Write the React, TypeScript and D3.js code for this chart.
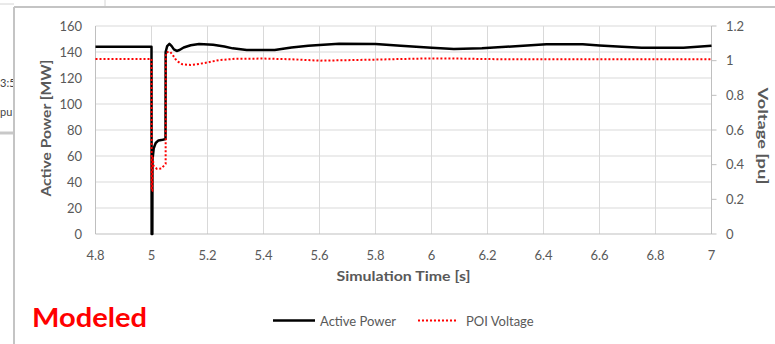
import React from "react";
import * as d3 from "d3";

const timeP = [4.8, 5.0, 5.0005, 5.003, 5.0035, 5.008, 5.015, 5.025, 5.04, 5.05, 5.0505, 5.056, 5.064, 5.072, 5.08, 5.09, 5.1, 5.115, 5.14, 5.17, 5.22, 5.26, 5.29, 5.34, 5.44, 5.5, 5.56, 5.6, 5.67, 5.8, 5.89, 6.0, 6.08, 6.18, 6.3, 6.41, 6.54, 6.6, 6.68, 6.75, 6.9, 7.0];
const powerMW = [144, 144, 0, 0, 57, 66, 70, 72, 72.5, 73, 140, 144.5, 146.2, 144.5, 142, 140.8, 141.5, 143.5, 145.2, 146.2, 145.5, 144.2, 142.8, 141.5, 141.5, 143.5, 144.8, 145.4, 146.3, 146.2, 144.8, 143.3, 142.4, 142.8, 144.5, 145.9, 145.9, 145, 144.1, 143.3, 143.3, 144.8];

const timeV = [4.8, 5.0, 5.0005, 5.003, 5.0035, 5.008, 5.02, 5.035, 5.045, 5.0505, 5.051, 5.058, 5.066, 5.075, 5.085, 5.095, 5.11, 5.14, 5.17, 5.2, 5.24, 5.3, 5.4, 5.5, 5.6, 5.7, 5.8, 5.9, 6.0, 6.1, 6.2, 6.4, 6.6, 6.8, 7.0];
const voltagePU = [1.01, 1.01, 0.25, 0.25, 0.45, 0.39, 0.375, 0.378, 0.395, 0.405, 1.04, 1.05, 1.052, 1.035, 1.01, 0.994, 0.979, 0.975, 0.981, 0.99, 1.003, 1.011, 1.012, 1.008, 1.0, 1.003, 1.006, 1.01, 1.013, 1.012, 1.009, 1.008, 1.008, 1.008, 1.008];

const xTicks = [4.8, 5.0, 5.2, 5.4, 5.6, 5.8, 6.0, 6.2, 6.4, 6.6, 6.8, 7.0];
const yLeftTicks = [0, 20, 40, 60, 80, 100, 120, 140, 160];
const yRightTicks = [0, 0.2, 0.4, 0.6, 0.8, 1.0, 1.2];

const FONT = "Lato, 'Open Sans', sans-serif";
const GRAY = "#595959";

export default function App() {
  const left = 95.5, right = 711.5, top = 26, bottom = 234;
  const x = d3.scaleLinear().domain([4.8, 7]).range([left, right]);
  const yL = d3.scaleLinear().domain([0, 160]).range([bottom, top]);
  const yR = d3.scaleLinear().domain([0, 1.2]).range([bottom, top]);

  const pLine = d3.line<number>().x((_, i) => x(timeP[i])).y((d) => yL(d))(powerMW) || "";
  const vLine = d3.line<number>().x((_, i) => x(timeV[i])).y((d) => yR(d))(voltagePU) || "";

  const fmtR = (v: number) => (v === 0 ? "0" : v === 1 ? "1" : d3.format(".1f")(v));
  const fmtX = (v: number) => (Math.abs(v - Math.round(v)) < 1e-9 ? String(Math.round(v)) : d3.format(".1f")(v));

  return (
    <svg width={775} height={344} style={{ position: "absolute", left: 0, top: 0, background: "#fff" }} fontFamily={FONT}>
      {/* screenshot surroundings */}
      <line x1={0} x2={14} y1={4} y2={4} stroke="#d4d4d4" strokeWidth={1} />
      <line x1={105} x2={105} y1={0} y2={6} stroke="#d4d4d4" strokeWidth={1} />
      <text x={0} y={87} fontSize={11} fill="#444">3:5</text>
      <text x={0} y={116} fontSize={11} fill="#444">pu</text>
      <line x1={0} x2={14} y1={133} y2={133} stroke="#c8c8c8" strokeWidth={3} />
      <rect x={13} y={6} width={780} height={360} fill="#fff" />
      <line x1={14} x2={775} y1={7} y2={7} stroke="#c4c4c4" strokeWidth={2} />
      <line x1={14} x2={14} y1={7} y2={344} stroke="#c4c4c4" strokeWidth={2} />

      {/* grid */}
      {yLeftTicks.slice(1).map((t) => (
        <line key={"gy" + t} x1={left} x2={right} y1={yL(t)} y2={yL(t)} stroke="#d9d9d9" strokeWidth={1} />
      ))}
      {xTicks.slice(1, -1).map((t) => (
        <line key={"gx" + t} x1={x(t)} x2={x(t)} y1={top} y2={bottom} stroke="#d9d9d9" strokeWidth={1} />
      ))}
      {/* axes */}
      <line x1={left} x2={left} y1={top} y2={bottom} stroke="#bfbfbf" strokeWidth={1} />
      <line x1={right} x2={right} y1={top} y2={bottom} stroke="#bfbfbf" strokeWidth={1} />
      <line x1={left} x2={right} y1={bottom} y2={bottom} stroke="#bfbfbf" strokeWidth={1} />
      {yRightTicks.map((t) => (
        <line key={"rt" + t} x1={right} x2={right + 5} y1={yR(t)} y2={yR(t)} stroke="#bfbfbf" strokeWidth={1} />
      ))}

      {/* tick labels */}
      {yLeftTicks.map((t) => (
        <text key={"yl" + t} x={82} y={yL(t)} dy="0.35em" textAnchor="end" fontSize={13} fill={GRAY}>{t}</text>
      ))}
      {yRightTicks.map((t) => (
        <text key={"yr" + t} x={726} y={yR(t)} dy="0.35em" textAnchor="start" fontSize={13} fill={GRAY}>{fmtR(t)}</text>
      ))}
      {xTicks.map((t) => (
        <text key={"xt" + t} x={x(t)} y={255} dy="0.35em" textAnchor="middle" fontSize={13} fill={GRAY}>{fmtX(t)}</text>
      ))}

      {/* axis titles */}
      <text transform={`translate(46,128) rotate(-90)`} textAnchor="middle" dy="0.35em" fontSize={14} fontWeight="bold" fill={GRAY} textLength={137} lengthAdjust="spacingAndGlyphs">Active Power [MW]</text>
      <text transform={`translate(757.5,136) rotate(90)`} textAnchor="middle" fontSize={14} fontWeight="bold" fill={GRAY} textLength={97} lengthAdjust="spacingAndGlyphs">Voltage [pu]</text>
      <text x={(left + right) / 2} y={276} dy="0.35em" textAnchor="middle" fontSize={14} fontWeight="bold" fill={GRAY} textLength={134} lengthAdjust="spacingAndGlyphs">Simulation Time [s]</text>

      {/* series */}
      <path d={pLine} fill="none" stroke="#000" strokeWidth={2.5} strokeLinejoin="round" />
      <path d={vLine} fill="none" stroke="#ff0000" strokeWidth={2} strokeDasharray="2,2" />

      {/* legend */}
      <line x1={273} x2={315} y1={320.5} y2={320.5} stroke="#000" strokeWidth={2.5} />
      <text x={320} y={321} dy="0.35em" fontSize={13} fill={GRAY}>Active Power</text>
      <line x1={418} x2={457} y1={320.5} y2={320.5} stroke="#ff0000" strokeWidth={2} strokeDasharray="2,2" />
      <text x={466} y={321} dy="0.35em" fontSize={13} fill={GRAY}>POI Voltage</text>

      <text x={32} y={327} fontSize={27} fontWeight="bold" fill="#ff0000" textLength={115} lengthAdjust="spacingAndGlyphs">Modeled</text>
    </svg>
  );
}
